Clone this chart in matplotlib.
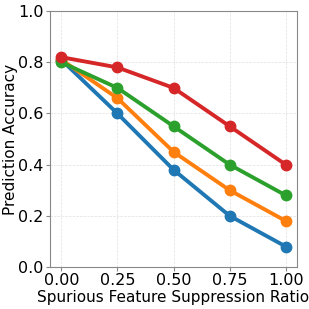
import matplotlib
matplotlib.use("Agg")
import matplotlib.pyplot as plt

ratios = [0.0, 0.25, 0.5, 0.75, 1.0]
acc_blue = [0.81, 0.60, 0.38, 0.20, 0.08]
acc_orange = [0.81, 0.66, 0.45, 0.30, 0.18]
acc_green = [0.80, 0.70, 0.55, 0.40, 0.28]
acc_red = [0.82, 0.78, 0.70, 0.55, 0.40]

series = [
    (acc_blue, "#1f77b4"),
    (acc_orange, "#ff7f0e"),
    (acc_green, "#2ca02c"),
    (acc_red, "#d62728"),
]

fig = plt.figure(figsize=(3.09, 3.09), dpi=100)
ax = fig.add_axes([0.162, 0.136, 0.799, 0.828])

for vals, col in series:
    ax.plot(ratios, vals, color=col, linewidth=2.8, marker="o", markersize=7.5)

ax.set_ylim(0.0, 1.0)
ax.set_xticks(ratios)
ax.set_xticklabels(["0.00", "0.25", "0.50", "0.75", "1.00"])
ax.set_yticks([0.0, 0.2, 0.4, 0.6, 0.8, 1.0])
ax.tick_params(labelsize=11.5, length=3, pad=1.5, color="#888888")
ax.grid(True, linestyle="--", linewidth=0.5, alpha=0.4)
for s in ax.spines.values():
    s.set_color("#888888")
ax.set_xlabel("Spurious Feature Suppression Ratio", fontsize=11)
ax.set_ylabel("Prediction Accuracy", fontsize=11)
ax.xaxis.set_label_coords(0.5, -0.09)
ax.yaxis.set_label_coords(-0.13, 0.5)

fig.savefig("out.png", dpi=100)
